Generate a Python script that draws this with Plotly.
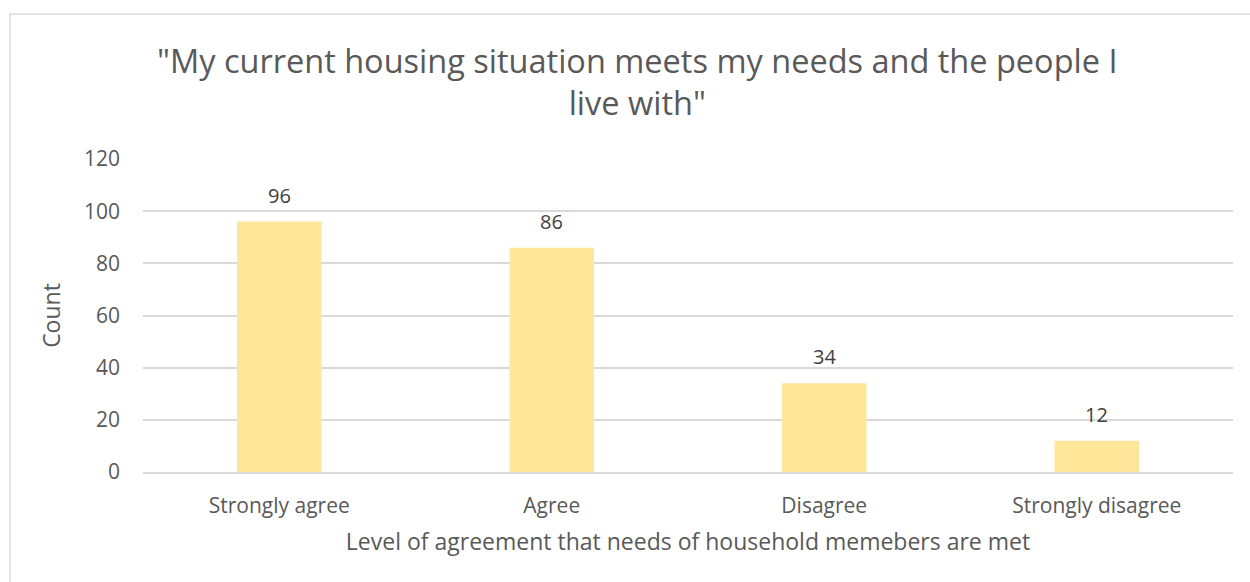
import plotly.graph_objects as go

# Survey responses
categories = ["Strongly agree", "Agree", "Disagree", "Strongly disagree"]
counts = [96, 86, 34, 12]
y_ticks = [0, 20, 40, 60, 80, 100, 120]

title_text = '"My current housing situation meets my needs and the people I<br>live with"'
x_title = "Level of agreement that needs of household memebers are met"
y_title = "Count"

FONT = "Open Sans"
TEXT_GREY = "#595959"
LABEL_GREY = "#404040"
BAR_COLOR = "#FFE699"
GRID = "#D9D9D9"

PLOT_W, PLOT_H = 1090, 313  # plot area in pixels (for paper-coordinate placement)

fig = go.Figure()
fig.add_trace(go.Bar(
    x=categories,
    y=counts,
    marker=dict(color=BAR_COLOR, line=dict(width=0)),
    hoverinfo="x+y",
))

# value labels above each bar
annotations = [
    dict(x=c, y=v, xref="x", yref="y", text=str(v), showarrow=False,
         yanchor="bottom", yshift=11,
         font=dict(family=FONT, size=20, color=LABEL_GREY))
    for c, v in zip(categories, counts)
]

# chart title
annotations.append(dict(
    x=(637 - 143) / PLOT_W, y=1 + (159 - 81) / PLOT_H, xref="paper", yref="paper",
    text=title_text, showarrow=False, align="center",
    xanchor="center", yanchor="middle",
    font=dict(family=FONT, size=32.5, color=TEXT_GREY),
))

fig.update_layout(
    width=1250, height=582,
    margin=dict(l=143, r=17, t=159, b=110),
    paper_bgcolor="white",
    plot_bgcolor="white",
    bargap=0.69,
    showlegend=False,
    font=dict(family=FONT, color=TEXT_GREY),
    annotations=annotations,
    # chart-area frame; right and bottom edges run past the page
    shapes=[dict(type="rect", xref="paper", yref="paper",
                 x0=(10 - 143) / PLOT_W, x1=(1265 - 143) / PLOT_W,
                 y0=(472 - 600) / PLOT_H, y1=(472 - 14) / PLOT_H,
                 line=dict(color="#D9D9D9", width=1.5), layer="below")],
    xaxis=dict(
        title=dict(text=x_title, font=dict(family=FONT, size=23, color=TEXT_GREY), standoff=16),
        tickfont=dict(family=FONT, size=21, color=TEXT_GREY),
        showgrid=False, showline=True, linecolor=GRID, linewidth=1.5,
        ticks="", ticklabelstandoff=14,
    ),
    yaxis=dict(
        title=dict(text=y_title, font=dict(family=FONT, size=23, color=TEXT_GREY), standoff=16),
        tickfont=dict(family=FONT, size=21, color=TEXT_GREY),
        range=[0, 120], tickvals=y_ticks,
        showgrid=True, gridcolor=GRID, gridwidth=1.5,
        zeroline=False, showline=False, ticks="", ticklabelstandoff=22,
    ),
)

fig.write_html("out.html")
